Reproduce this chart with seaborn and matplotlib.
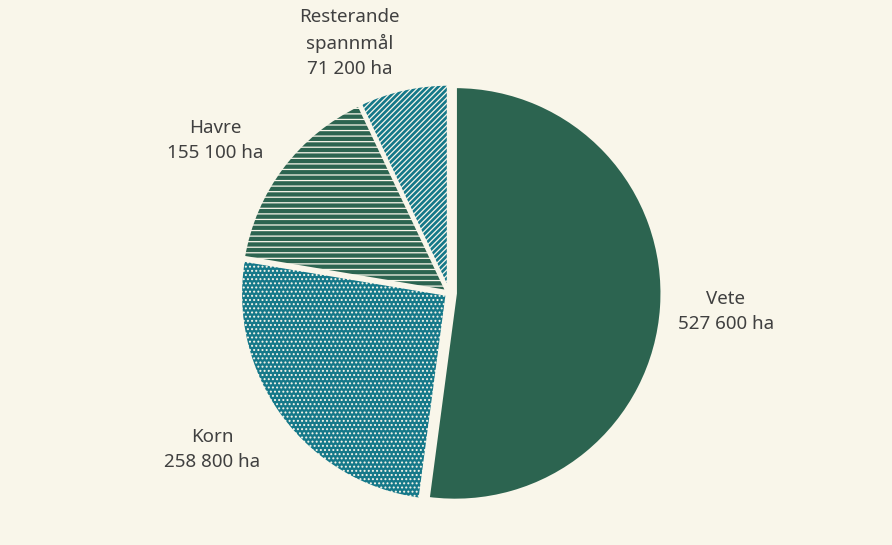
import numpy as np
import matplotlib
matplotlib.use("Agg")
import matplotlib.pyplot as plt
import seaborn as sns

# arealer (ha) per gröda
grodor = ["Vete", "Korn", "Havre", "Resterande\nspannmål"]
areal = [527600, 258800, 155100, 71200]
farger = ["#2c6450", "#157889", "#2c6450", "#157889"]
monster = [None, "....", "---", "//////"]

bg = "#f9f6ea"
sns.set_theme(style="white", rc={"axes.facecolor": bg, "figure.facecolor": bg})
plt.rcParams["font.family"] = ["Noto Sans", "DejaVu Sans"]
plt.rcParams["hatch.color"] = "white"
plt.rcParams["hatch.linewidth"] = 0.9

def fmt(v):
    return f"{v:,}".replace(",", " ") + " ha"

fig = plt.figure(figsize=(8.92, 5.45), dpi=100)
ax = fig.add_axes([0, 0, 1, 1])

wedges, _ = ax.pie(areal, colors=farger, startangle=90, counterclock=False,
                   explode=[0.03, 0.01, 0.01, 0.01],
                   wedgeprops=dict(edgecolor=bg, linewidth=2.5))
for w, h in zip(wedges, monster):
    if h:
        w.set_hatch(h)

# etiketter utanför tårtbitarna
avst = [1.34, 1.37, 1.35, 1.30]
vrid = [0, -3, 4, 9]
for w, namn, v, d, dv in zip(wedges, grodor, areal, avst, vrid):
    a = np.deg2rad((w.theta1 + w.theta2) / 2 + dv)
    ax.text(d * np.cos(a), d * np.sin(a), f"{namn}\n{fmt(v)}",
            ha="center", va="center", fontsize=13.5, color="#404040",
            linespacing=1.5)

ax.set_xlim(-449 / 207, 443 / 207)
ax.set_ylim(-252 / 207, 293 / 207)
ax.set_aspect("auto")
ax.axis("off")

fig.savefig("out.png", dpi=100, facecolor=bg)
